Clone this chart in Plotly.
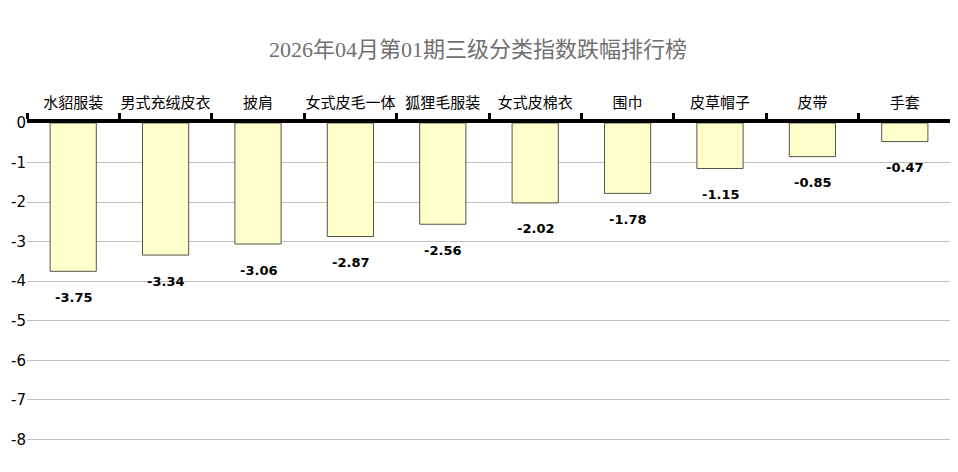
import plotly.graph_objects as go

categories = ["水貂服装", "男式充绒皮衣", "披肩", "女式皮毛一体", "狐狸毛服装",
              "女式皮棉衣", "围巾", "皮草帽子", "皮带", "手套"]
values = [-3.75, -3.34, -3.06, -2.87, -2.56, -2.02, -1.78, -1.15, -0.85, -0.47]
y_ticks = [0, -1, -2, -3, -4, -5, -6, -7, -8]
title_text = "2026年04月第01期三级分类指数跌幅排行榜"

# page body has an 8px default margin, so the figure is sized to the visible area
W, H = 950, 464

fig = go.Figure()
fig.add_trace(go.Bar(
    x=categories, y=values, width=0.5,
    marker=dict(color="#FFFFCC", line=dict(color="#555544", width=1)),
    hoverinfo="x+y",
))

for c, v in zip(categories, values):
    fig.add_annotation(x=c, y=v, text=f"{v:.2f}", showarrow=False,
                       yshift=-26, font=dict(family="DejaVu Sans", size=13, color="black", weight="bold"))

fig.update_layout(
    width=W, height=H,
    margin=dict(l=19, r=7, t=115, b=16),
    paper_bgcolor="white", plot_bgcolor="white",
    showlegend=False,
    title=dict(text=title_text, x=(478 - 8) / W, xanchor="center", y=1 - 41 / H, yanchor="middle",
               font=dict(family="Liberation Serif, Noto Sans CJK SC", size=22, color="#707070")),
    xaxis=dict(side="top", type="category", tickson="boundaries", tickangle=0, automargin=False,
               ticks="outside", ticklen=6, tickwidth=3, tickcolor="black", ticklabelstandoff=5,
               showline=True, linecolor="black", linewidth=4,
               showgrid=False, zeroline=False,
               tickfont=dict(family="Noto Sans CJK SC", size=15, color="black")),
    yaxis=dict(range=[-8.42, 0], tickvals=y_ticks, ticktext=[str(t) for t in y_ticks], automargin=False,
               showgrid=True, gridcolor="#C0C0C0", gridwidth=1,
               zeroline=False, showline=False, ticks="",
               tickfont=dict(family="DejaVu Sans", size=15, color="black")),
)

fig.write_html("out.html")
